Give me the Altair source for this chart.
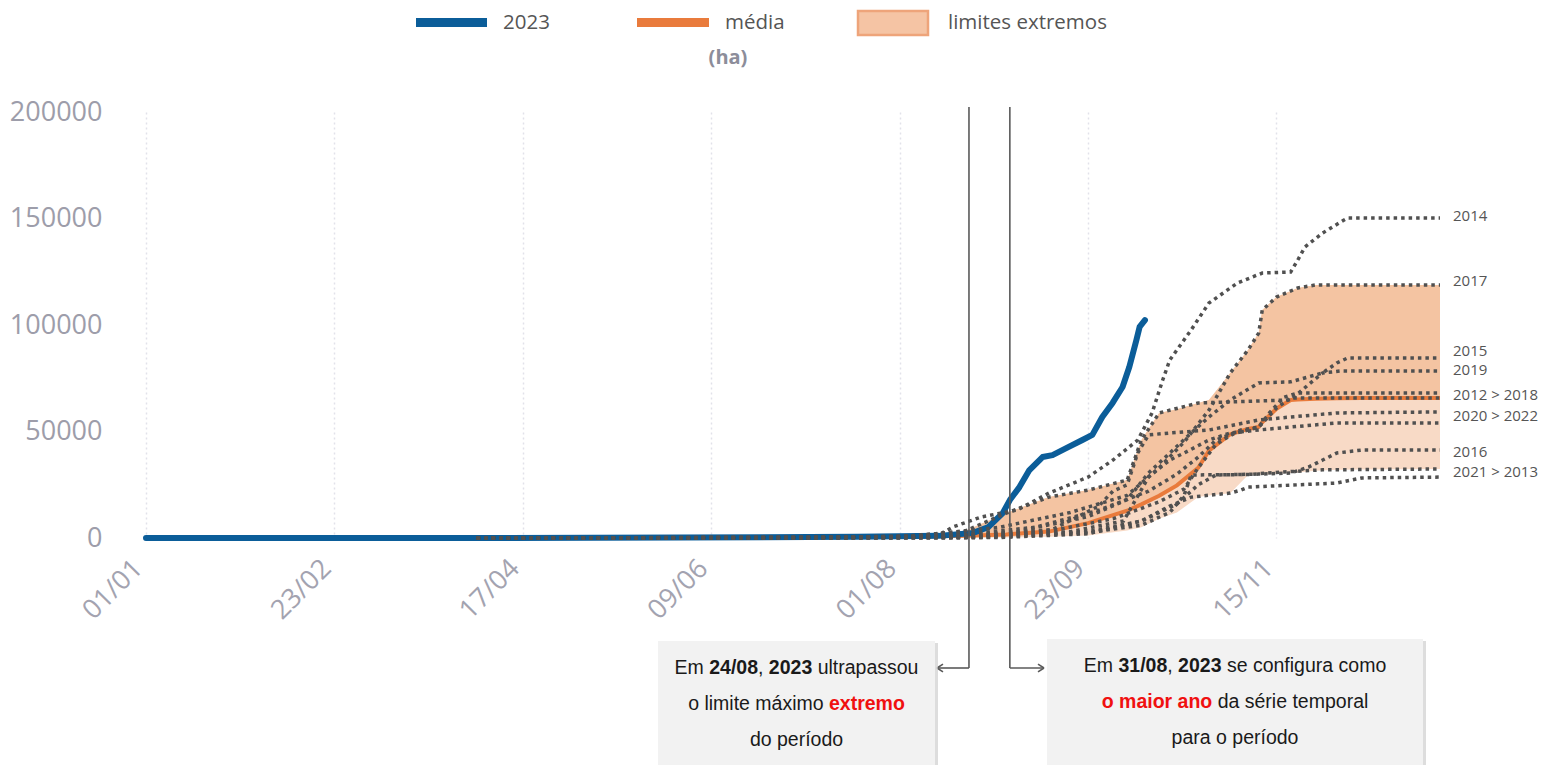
import altair as alt
import pandas as pd

# ---------------- data (day index from 01/01, area in ha) ----------------
tick_days = [0, 53, 106, 159, 212, 265, 318]
y_ticks = [0, 50000, 100000, 150000, 200000]

days_2023 = [0, 93, 150, 200, 223, 232.5, 237, 241, 243, 245.7, 248.5, 252.2, 255, 259, 263.4, 266.2, 269, 271.9, 274.7, 276.6, 278.6, 279.5, 281]
vals_2023 = [0, 0, 200, 600, 1000, 2300, 5200, 11700, 17800, 23900, 31900, 38000, 38900, 42300, 46000, 48400, 56800, 63400, 70900, 80300, 93000, 99100, 102300]

band_days = [93, 215, 230, 242, 254, 265, 276, 280, 285, 290, 296, 299, 305, 310, 313, 314, 318, 322, 324, 329, 335, 342, 364]
band_high = [0, 1000, 3000, 11700, 19200, 22500, 27200, 46000, 58700, 60500, 63400, 64800, 77500, 88300, 96200, 107000, 113100, 116000, 117400, 118800, 118800, 118800, 118800]
band_low = [0, 0, 0, 200, 600, 1200, 3500, 5000, 9000, 12000, 19200, 20000, 21000, 29600, 29800, 29800, 30200, 30500, 30800, 31600, 32000, 32200, 32400]
band_mean = [0, 600, 1000, 1700, 3000, 7000, 12800, 15800, 19800, 24700, 33000, 41000, 48700, 51200, 52100, 54300, 60700, 64800, 65000, 65400, 65600, 65700, 65700]

days_2012 = [93, 200, 225, 250, 268, 282, 290, 296, 301, 308, 313, 316, 320, 324, 364]
vals_2012 = [0, 300, 800, 5000, 13000, 22000, 30000, 38000, 46000, 50700, 52100, 58700, 66000, 68100, 68100]
days_2013 = [93, 200, 240, 265, 280, 288, 294, 305, 308, 310, 335, 342, 364]
vals_2013 = [0, 100, 200, 2000, 8000, 15000, 19200, 21100, 22500, 23900, 25800, 28200, 28600]
days_2014 = [93, 180, 215, 223, 227, 235, 245, 254, 265, 272, 279, 283, 286, 288, 294, 299, 307, 314, 322, 324, 326, 331, 337, 338, 364]
vals_2014 = [0, 300, 800, 1400, 5200, 9900, 13100, 21100, 28600, 36600, 46000, 58700, 74200, 83600, 97700, 110300, 119700, 124400, 124900, 130500, 136600, 143200, 149300, 150200, 150200]
days_2015 = [93, 200, 220, 245, 265, 276, 282, 288, 294, 299, 305, 313, 322, 331, 335, 338, 364]
vals_2015 = [0, 200, 300, 3000, 10000, 18000, 30500, 39900, 49300, 56800, 64800, 72800, 73300, 77500, 82200, 84500, 84500]
days_2016 = [93, 200, 235, 265, 280, 290, 296, 301, 313, 322, 327, 331, 335, 342, 364]
vals_2016 = [0, 100, 300, 3000, 8000, 16000, 25000, 29600, 30000, 30500, 33300, 36600, 39900, 41300, 41300]
days_2017 = [93, 200, 215, 240, 260, 276, 285, 292, 299, 305, 310, 313, 314, 318, 324, 329, 364]
vals_2017 = [0, 300, 800, 5000, 12000, 20000, 33000, 45000, 60000, 77500, 88300, 96200, 107000, 113100, 117400, 118800, 118800]
days_2018 = [93, 200, 230, 255, 272, 285, 292, 296, 301, 306, 313, 318, 322, 364]
vals_2018 = [0, 200, 500, 3500, 9000, 17000, 23000, 33000, 44000, 49000, 52000, 61000, 65700, 65700]
days_2019 = [93, 200, 215, 230, 242, 254, 265, 276, 280, 285, 296, 322, 327, 331, 336, 364]
vals_2019 = [0, 400, 1000, 3000, 11700, 19200, 22500, 27200, 46000, 58700, 63400, 64800, 72000, 77500, 78400, 78400]
days_2020 = [93, 200, 230, 255, 268, 272, 276, 279, 282, 288, 299, 313, 322, 335, 364]
vals_2020 = [0, 300, 500, 4000, 15000, 22000, 25000, 40000, 48400, 49300, 50700, 55400, 56800, 58700, 59200]
days_2021 = [93, 200, 235, 265, 280, 288, 292, 294, 310, 320, 331, 364]
vals_2021 = [0, 100, 200, 2500, 6000, 12000, 20000, 29600, 29800, 31000, 32000, 32400]
days_2022 = [93, 200, 230, 260, 275, 282, 288, 292, 299, 305, 313, 322, 335, 364]
vals_2022 = [0, 200, 300, 3000, 8000, 28600, 36600, 39900, 46000, 49300, 50700, 52100, 54000, 54000]

end_labels = ["2014", "2017", "2015", "2019", "2012 > 2018", "2020 > 2022", "2016", "2021 > 2013"]
end_label_vals = [151000, 120700, 87800, 78900, 67100, 57300, 40400, 31000]

annot_days = [231.5, 243]

# ---------------- frames ----------------
series = {
    "2012": (days_2012, vals_2012), "2013": (days_2013, vals_2013), "2014": (days_2014, vals_2014),
    "2015": (days_2015, vals_2015), "2016": (days_2016, vals_2016), "2017": (days_2017, vals_2017),
    "2018": (days_2018, vals_2018), "2019": (days_2019, vals_2019), "2020": (days_2020, vals_2020),
    "2021": (days_2021, vals_2021), "2022": (days_2022, vals_2022),
}
rows = []
for yr, (ds, vs) in series.items():
    for d, v in zip(ds, vs):
        rows.append({"day": d, "value": v, "year": yr})
df_years = pd.DataFrame(rows)
df_2023 = pd.DataFrame({"day": days_2023, "value": vals_2023})
df_band = pd.DataFrame({"day": band_days, "low": band_low, "high": band_high, "mean": band_mean})
df_lab = pd.DataFrame({"day": [364] * len(end_labels), "value": end_label_vals, "label": end_labels})
df_ann = pd.DataFrame({"day": annot_days})

W, H = 1294, 426
XMAX = 364
OX, OY = 146, 112  # page position of plot origin

x_scale = alt.Scale(domain=[0, XMAX], nice=False, zero=False)
y_scale = alt.Scale(domain=[0, 200000], nice=False)

x_axis = alt.Axis(values=tick_days,
                  labelExpr="timeFormat(datetime(2023, 0, 1 + datum.value), '%d/%m')",
                  labelAngle=315, labelAlign="right", labelBaseline="middle",
                  labelFontSize=27, labelColor="#a3a3b0", labelFont="Open Sans",
                  labelPadding=26, labelOffset=-8, domain=False, ticks=False, grid=True,
                  gridDash=[2, 3], gridColor="#e2e2ea", gridWidth=1.5, title=None)
y_axis = alt.Axis(values=y_ticks, format="d", labelFontSize=27, labelColor="#9d9daa",
                  labelFont="Open Sans", labelPadding=44, domain=False, ticks=False, grid=False,
                  title=None)

band_light = alt.Chart(df_band).mark_area(color="#f8dac6").encode(
    x=alt.X("day:Q", scale=x_scale, axis=x_axis),
    y=alt.Y("low:Q", scale=y_scale, axis=y_axis), y2="high:Q")
band_dark = alt.Chart(df_band).mark_area(color="#f4c4a2").encode(
    x="day:Q", y="mean:Q", y2="high:Q")
mean_line = alt.Chart(df_band).mark_line(color="#e97b3c", strokeWidth=4).encode(
    x="day:Q", y="mean:Q")
line_2023 = alt.Chart(df_2023).mark_line(color="#0b5d99", strokeWidth=6, strokeCap="round",
                                          strokeJoin="round").encode(x="day:Q", y="value:Q")
dotted = alt.Chart(df_years).mark_line(color="#505050", strokeWidth=3.5, strokeDash=[3.5, 4],
                                        strokeCap="butt").encode(
    x="day:Q", y="value:Q", detail="year:N")
labels = alt.Chart(df_lab).mark_text(align="left", baseline="middle", dx=13, fontSize=15,
                                      font="Open Sans", color="#555555").encode(
    x="day:Q", y="value:Q", text="label:N")

one = alt.Data(values=[{"a": 1}])


def px(v):
    return v - OX


def py(v):
    return v - OY


ann_rules = alt.Chart(df_ann).mark_rule(color="#5a5a5a", strokeWidth=1.6).encode(
    x="day:Q", y=alt.value(py(107)), y2=alt.value(py(668)))

layers = [band_light, band_dark, mean_line, line_2023, dotted, labels, ann_rules]


def rect(x1, x2, y1, y2, **kw):
    return alt.Chart(one).mark_rect(**kw).encode(
        x=alt.value(px(x1)), x2=alt.value(px(x2)), y=alt.value(py(y1)), y2=alt.value(py(y2)))


def rule(x1, x2, y1, y2, **kw):
    return alt.Chart(one).mark_rule(**kw).encode(
        x=alt.value(px(x1)), x2=alt.value(px(x2)), y=alt.value(py(y1)), y2=alt.value(py(y2)))


def text(x, y, s, **kw):
    return alt.Chart(one).mark_text(**kw).encode(
        x=alt.value(px(x)), y=alt.value(py(y)), text=alt.value(s))


ax1 = OX + annot_days[0] * W / XMAX
ax2 = OX + annot_days[1] * W / XMAX
layers.append(rule(ax1, 937, 668, 668, color="#5a5a5a", strokeWidth=1.6))
layers.append(rule(ax2, 1044, 668, 668, color="#5a5a5a", strokeWidth=1.6))
layers.append(alt.Chart(one).mark_point(shape="M0,0L2,-1.3M0,0L2,1.3", size=36, filled=False,
                                        color="#5a5a5a", strokeWidth=1.6, opacity=1).encode(
    x=alt.value(px(937)), y=alt.value(py(668))))
layers.append(alt.Chart(one).mark_point(shape="M0,0L-2,-1.3M0,0L-2,1.3", size=36, filled=False,
                                        color="#5a5a5a", strokeWidth=1.6, opacity=1).encode(
    x=alt.value(px(1044)), y=alt.value(py(668))))

for (x1, x2, y1, y2) in [(658, 935, 641, 765), (1047, 1423, 639, 765)]:
    layers.append(rect(x1 + 2, x2 + 3, y1 + 2, y2 + 3, color="#cfcfcf", opacity=0.7))
    layers.append(rect(x1, x2, y1, y2, color="#f2f2f2"))

REG = {' ': 278, ',': 278, '/': 278, 'E': 667, 'a': 556, 'c': 500, 'd': 556, 'e': 556, 'f': 278,
       'g': 556, 'i': 222, 'l': 222, 'm': 833, 'n': 556, 'o': 556, 'p': 556, 'r': 333, 's': 500,
       't': 278, 'u': 556, 'x': 500, 'á': 556, 'é': 556, 'í': 278, 'ó': 556}
BOLD = {' ': 278, '/': 278, 'a': 556, 'e': 556, 'i': 278, 'm': 889, 'n': 611, 'o': 611, 'r': 389,
        't': 333, 'x': 556}
FS = 19.5


def tw(s, bold):
    tab = BOLD if bold else REG
    return sum(tab.get(c, 556) for c in s) * FS / 1000.0


def rich_line(cx, y, segs):
    total = sum(tw(s, b) for s, b, c in segs)
    x = cx - total / 2.0
    out = []
    for s, b, c in segs:
        lead = len(s) - len(s.lstrip(' '))
        x_draw = x + tw(s[:lead], b)
        out.append(text(x_draw, y, s.strip(' '), align="left", baseline="middle", fontSize=FS,
                        font="Liberation Sans", fontWeight="bold" if b else "normal", color=c))
        x += tw(s, b)
    return out


K, R = "#1a1a1a", "#f01010"
c1 = (658 + 935) / 2
c2 = (1047 + 1423) / 2
box_lines = [
    (c1, 668, [("Em ", False, K), ("24/08", True, K), (", ", False, K), ("2023", True, K), (" ultrapassou", False, K)]),
    (c1, 704, [("o limite máximo ", False, K), ("extremo", True, R)]),
    (c1, 740, [("do período", False, K)]),
    (c2, 666, [("Em ", False, K), ("31/08", True, K), (", ", False, K), ("2023", True, K), (" se configura como", False, K)]),
    (c2, 702, [("o maior ano", True, R), (" da série temporal", False, K)]),
    (c2, 738, [("para o período", False, K)]),
]
for cx, y, segs in box_lines:
    layers.extend(rich_line(cx, y, segs))

layers.append(rect(416, 487, 18, 27, color="#0b5d99"))
layers.append(rect(637, 709, 18, 27, color="#e97b3c"))
layers.append(rect(858, 928, 11, 35, color="#f5c4a4", stroke="#eea47a", strokeWidth=2.5))
for x, s in [(503, "2023"), (725, "média"), (948, "limites extremos")]:
    layers.append(text(x, 23, s, align="left", baseline="middle", fontSize=20.5, font="Open Sans",
                       color="#555555"))
layers.append(text(728, 58, "(ha)", align="center", baseline="middle", fontSize=20, font="Open Sans",
                   fontWeight="bold", color="#8c8d9a"))

chart = alt.layer(*layers).properties(
    width=W, height=H,
    padding={"left": OX - 8, "top": OY - 8, "right": 1539 - 8 - (OX - 8) - W, "bottom": 765 - OY - H},
    autosize=alt.AutoSizeParams(type="none"),
).configure_view(strokeWidth=0)

chart.save("out.html", embed_options={"renderer": "svg", "actions": False})
